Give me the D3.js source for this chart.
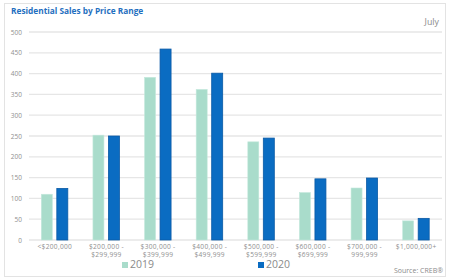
<!DOCTYPE html>
<html>
<head>
  <meta charset="utf-8">
  <script src="https://d3js.org/d3.v7.min.js"></script>
  <style>
    body { margin: 0; background: #fff; }
    text { font-family: "Open Sans", sans-serif; }
    .tick text { fill: #8f8f8f; font-size: 6.5px; }
    .grid line { stroke: #e6e6e6; stroke-width: 1.3; }
  </style>
</head>
<body>
  <script>

    // Chart data
    var categories = ["<$200,000", "$200,000 -|$299,999", "$300,000 -|$399,999", "$400,000 -|$499,999",
                      "$500,000 -|$599,999", "$600,000 -|$699,999", "$700,000 -|999,999", "$1,000,000+"];
    var sales2019 = [110, 252, 391, 362, 236, 114, 125, 46];
    var sales2020 = [124, 250, 459, 401, 245, 147, 149, 52];
    var yTicks = [0, 50, 100, 150, 200, 250, 300, 350, 400, 450, 500];
    var seriesNames = ["2019", "2020"];

    var width = 450, height = 280;
    var colors = {"2019": "#a9dccb", "2020": "#0a6cc2"};
    var strokes = {"2019": "#c4e8dc", "2020": "#0b5aa6"};

    var svg = d3.select("body").append("svg")
        .attr("width", width)
        .attr("height", height);

    // frame
    svg.append("rect")
        .attr("x", 4.5).attr("y", 3.5)
        .attr("width", 441).attr("height", 273)
        .attr("fill", "#fff")
        .attr("stroke", "#e3e3e3");

    var x = d3.scaleBand()
        .domain(categories)
        .range([29, 442]);

    var y = d3.scaleLinear()
        .domain([0, 500])
        .range([240, 32]);

    // gridlines
    svg.append("g")
        .attr("class", "grid")
        .selectAll("line")
        .data(yTicks)
      .enter().append("line")
        .attr("x1", 29).attr("x2", 442)
        .attr("y1", function(d) { return y(d); })
        .attr("y2", function(d) { return y(d); });

    // y axis labels
    var yAxis = svg.append("g")
        .attr("transform", "translate(29,0)")
        .call(d3.axisLeft(y).tickValues(yTicks).tickSize(0).tickPadding(7));
    yAxis.select(".domain").remove();

    // bars
    var groups = svg.selectAll(".grp")
        .data(categories)
      .enter().append("g")
        .attr("class", "grp")
        .attr("transform", function(d) { return "translate(" + (x(d) + x.bandwidth() / 2) + ",0)"; });

    groups.append("rect")
        .attr("x", -13.5)
        .attr("width", 11)
        .attr("y", function(d, i) { return y(sales2019[i]); })
        .attr("height", function(d, i) { return y(0) - y(sales2019[i]); })
        .attr("fill", colors["2019"])
        .attr("stroke", strokes["2019"])
        .attr("stroke-width", 0.6);

    groups.append("rect")
        .attr("x", 2)
        .attr("width", 11)
        .attr("y", function(d, i) { return y(sales2020[i]); })
        .attr("height", function(d, i) { return y(0) - y(sales2020[i]); })
        .attr("fill", colors["2020"])
        .attr("stroke", strokes["2020"])
        .attr("stroke-width", 0.8);

    // x labels (two lines)
    var xAxis = svg.append("g")
        .attr("transform", "translate(0,240)")
        .call(d3.axisBottom(x).tickSize(0).tickFormat(""));
    xAxis.select(".domain").remove();
    xAxis.selectAll(".tick").each(function(d) {
      var t = d3.select(this).append("text")
          .attr("y", 8.5)
          .attr("text-anchor", "middle")
          .attr("fill", "#939393")
          .style("font-size", "6.6px")
          .style("letter-spacing", "0.3px");
      d.split("|").forEach(function(line, k) {
        t.append("tspan").attr("x", 0).attr("dy", k === 0 ? 0 : 8).text(line);
      });
    });

    // title
    svg.append("text")
        .attr("x", 11).attr("y", 14)
        .attr("fill", "#1f6fc0")
        .style("font-size", "8.3px")
        .style("font-weight", "bold")
        .text("Residential Sales by Price Range");

    svg.append("text")
        .attr("x", 439).attr("y", 25)
        .attr("text-anchor", "end")
        .attr("fill", "#8a8a8a")
        .style("font-size", "8.8px")
        .text("July");

    // legend
    var legendX = [122, 258];
    var legend = svg.selectAll(".leg")
        .data(seriesNames)
      .enter().append("g")
        .attr("transform", function(d, i) { return "translate(" + legendX[i] + ",268)"; });
    legend.append("rect")
        .attr("x", 0).attr("y", -6)
        .attr("width", 6).attr("height", 6)
        .attr("fill", function(d) { return colors[d]; });
    legend.append("text")
        .attr("x", 8).attr("y", 0)
        .attr("fill", "#8a8a8a")
        .style("font-size", "10.5px")
        .text(function(d) { return d; });

    svg.append("text")
        .attr("x", 443).attr("y", 273)
        .attr("text-anchor", "end")
        .attr("fill", "#8a8a8a")
        .style("font-size", "7px")
        .text("Source: CREB\u00AE");

  </script>
</body>
</html>
